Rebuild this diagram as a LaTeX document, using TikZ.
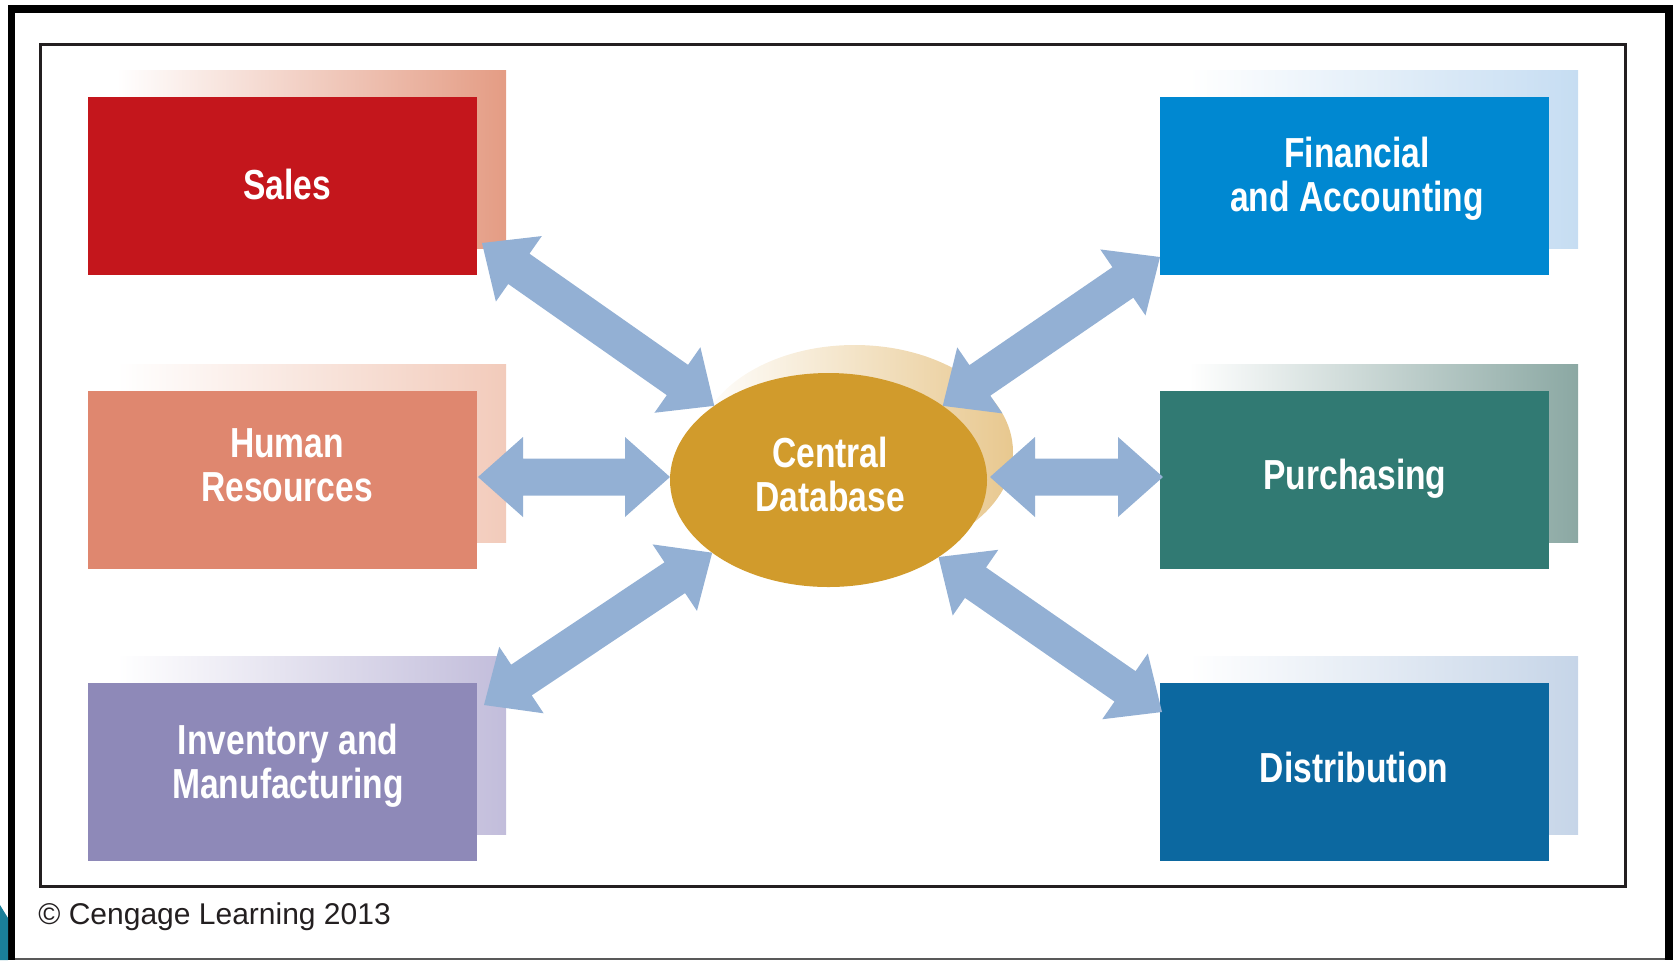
\documentclass[tikz,border=0pt]{standalone}
\usepackage{fontspec}
\setmainfont{Liberation Sans}
\newfontfamily\boxfont{Liberation Sans}[FakeStretch=0.8]
\usetikzlibrary{calc,shapes.geometric,backgrounds}

\definecolor{salesred}{HTML}{C4161C}
\definecolor{salesshade}{HTML}{E49C84}
\definecolor{hrfill}{HTML}{DF876F}
\definecolor{hrshade}{HTML}{F2CBBB}
\definecolor{invfill}{HTML}{8E89B8}
\definecolor{invshade}{HTML}{C2BDDB}
\definecolor{finfill}{HTML}{0088D1}
\definecolor{finshade}{HTML}{C6DDF2}
\definecolor{purfill}{HTML}{317A73}
\definecolor{purshade}{HTML}{8BA8A3}
\definecolor{distfill}{HTML}{0C68A0}
\definecolor{distshade}{HTML}{C6D5E8}
\definecolor{dbfill}{HTML}{D19B2C}
\definecolor{dbshade}{HTML}{E8C88F}
\definecolor{arrowblue}{HTML}{93B0D4}
\definecolor{framegray}{HTML}{231F20}
\definecolor{slideteal}{HTML}{1A7F99}

% double-headed block arrow between two named points
\newcommand\dblarrow[2]{%
  \fill[arrowfill] let \p1=($(#2)-(#1)$), \n1={atan2(\y1,\x1)} in
    (#1) -- ($(#1)+(\n1:22.5pt)+(\n1+90:20pt)$) -- ($(#1)+(\n1:22.5pt)+(\n1+90:9.25pt)$)
    -- ($(#2)-(\n1:22.5pt)+(\n1+90:9.25pt)$) -- ($(#2)-(\n1:22.5pt)+(\n1+90:20pt)$)
    -- (#2)
    -- ($(#2)-(\n1:22.5pt)-(\n1+90:20pt)$) -- ($(#2)-(\n1:22.5pt)-(\n1+90:9.25pt)$)
    -- ($(#1)+(\n1:22.5pt)-(\n1+90:9.25pt)$) -- ($(#1)+(\n1:22.5pt)-(\n1+90:20pt)$)
    -- cycle;}

\begin{document}
\begin{tikzpicture}[x=0.5pt,y=-0.5pt,
  box/.style={rectangle, inner sep=0pt, outer sep=0pt,
    minimum width=194.5pt, minimum height=89pt},
  hub/.style={ellipse, inner sep=0pt, outer sep=0pt,
    minimum width=158.5pt, minimum height=107pt, fill=dbfill},
  lbl/.style={inner sep=0pt, text=white, align=center,
    font=\boxfont\bfseries\fontsize{21}{22}\selectfont},
  arrowfill/.style={fill=arrowblue},
  shadowoff/.style={}]
\useasboundingbox (0,0) rectangle (1675,960);

% outer slide frame
\fill[black] (8,5) rectangle (1673,13);
\fill[black] (8,5) rectangle (15,960);
\fill[black] (1665,5) rectangle (1673,960);
\fill[black!65] (15,958) rectangle (1665,960);
\fill[slideteal] (0,905) -- (8,918) -- (8,960) -- (0,960) -- cycle;

% inner frame
\draw[framegray, line width=1.5pt] (40.5,44.5) rectangle (1625.5,886);

% department boxes
\node[box, fill=salesred] (sales) at (282.5,186) {};
\node[box, fill=hrfill]   (hr)    at (282.5,480) {};
\node[box, fill=invfill]  (inv)   at (282.5,772) {};
\node[box, fill=finfill]  (fin)   at (1354.5,186) {};
\node[box, fill=purfill]  (pur)   at (1354.5,480) {};
\node[box, fill=distfill] (dist)  at (1354.5,772) {};

% central database
\node[hub] (db) at (828.5,480) {};

% faded offset shadows
\begin{scope}[on background layer]
  \shade[left color=white, right color=salesshade]
    ($(sales.south west)+(29,-27)$) rectangle ($(sales.north east)+(29,-27)$);
  \shade[left color=white, right color=hrshade]
    ($(hr.south west)+(29,-27)$) rectangle ($(hr.north east)+(29,-27)$);
  \shade[left color=white, right color=invshade]
    ($(inv.south west)+(29,-27)$) rectangle ($(inv.north east)+(29,-27)$);
  \shade[left color=white, right color=finshade]
    ($(fin.south west)+(29,-27)$) rectangle ($(fin.north east)+(29,-27)$);
  \shade[left color=white, right color=purshade]
    ($(pur.south west)+(29,-27)$) rectangle ($(pur.north east)+(29,-27)$);
  \shade[left color=white, right color=distshade]
    ($(dist.south west)+(29,-27)$) rectangle ($(dist.north east)+(29,-27)$);
  \shade[left color=white, right color=dbshade]
    ($(db.center)+(26,-28)$) ellipse [x radius=79.25pt, y radius=53.5pt];
\end{scope}

% labels
\node[lbl] (salesT) at (287,184) {Sales};
\node[lbl] (hrT)    at (287,465) {Human\\Resources};
\node[lbl] (invT)   at (288,766) {Inventory and\\Manufacturing};
\node[lbl] (finT)   at (1357,179) {Financial\\and Accounting};
\node[lbl] (purT)   at (1355,479) {Purchasing};
\node[lbl] (distT)  at (1354,767) {Distribution};
\node[lbl] (dbT)    at (830,474) {Central\\Database};

% arrow end points
\coordinate (salesA) at ($(sales.south east)+(5,-32)$);
\coordinate (hrA)    at ($(hr.east)+(1,-3)$);
\coordinate (invA)   at ($(inv.north east)+(7,22)$);
\coordinate (finA)   at ($(fin.south west)+(0,-18)$);
\coordinate (purA)   at ($(pur.west)+(3,-3)$);
\coordinate (distA)  at ($(dist.north west)+(2,29)$);
\coordinate (dbSales) at (db.147);
\coordinate (dbHr)    at ($(db.west)+(0,-3)$);
\coordinate (dbInv)   at (db.212);
\coordinate (dbFin)   at (db.33);
\coordinate (dbPur)   at ($(db.east)+(3,-3)$);
\coordinate (dbDist)  at (db.325);

% connectors
\dblarrow{salesA}{dbSales}
\dblarrow{hrA}{dbHr}
\dblarrow{invA}{dbInv}
\dblarrow{finA}{dbFin}
\dblarrow{purA}{dbPur}
\dblarrow{distA}{dbDist}

% credit line
\node[anchor=base west, inner sep=0pt, text=framegray,
  font=\fontsize{15}{17}\selectfont] (credit) at (38,924) {© Cengage Learning 2013};
\end{tikzpicture}
\end{document}
